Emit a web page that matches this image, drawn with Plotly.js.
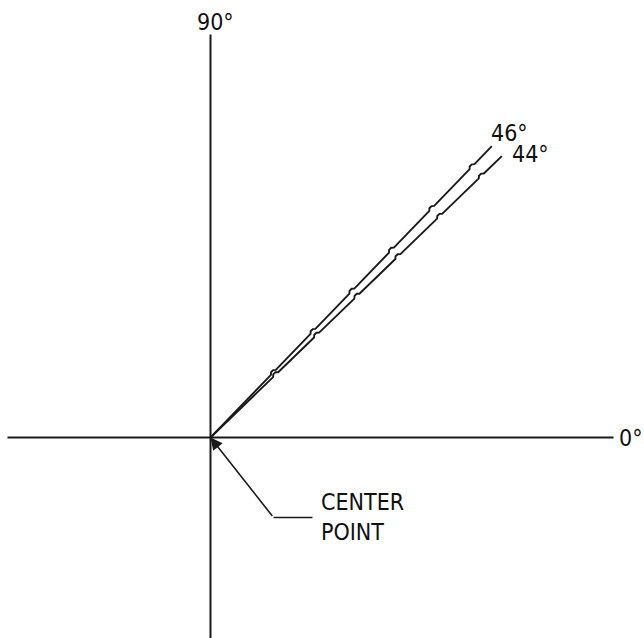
<!DOCTYPE html>
<html>
<head>
<meta charset="utf-8">
<script src="https://cdn.plot.ly/plotly-3.0.1.min.js"></script>
<style>html,body{margin:0;padding:0;background:#fff;}#chart{width:644px;height:638px;}</style>
</head>
<body>
<div id="chart"></div>
<script>
// Data
const rayAngles = [46, 44];            // degrees
const rayLabels = ["46°", "44°"];
const rayLength = 405;                 // drawing units
const kinkDistances = [90, 147, 203, 260, 318, 376];
const axisLabels = ["0°", "90°"];
const calloutLabel = ["CENTER", "POINT"];

const FONT = '"DejaVu Sans Condensed", "DejaVu Sans", sans-serif';
const ink = '#1a1a1a';

function rayPath(angle) {
  const a = angle * Math.PI / 180;
  const ux = Math.cos(a), uy = Math.sin(a);
  const nx = -uy, ny = ux; // perpendicular (upper-left)
  const xs = [0], ys = [0];
  kinkDistances.forEach(d => {
    [[d - 3, 0], [d - 1, 1.8], [d + 2, 1.8], [d + 4, 0]].forEach(([s, o]) => {
      xs.push(s * ux + o * nx); ys.push(s * uy + o * ny);
    });
  });
  xs.push(rayLength * ux); ys.push(rayLength * uy);
  return {xs, ys};
}

const traces = [];
// axes lines
traces.push({x: [-203, 403], y: [0, 0], mode: 'lines', line: {color: ink, width: 2}, hoverinfo: 'skip'});
traces.push({x: [0, 0], y: [-205, 403], mode: 'lines', line: {color: ink, width: 2}, hoverinfo: 'skip'});
// rays
rayAngles.forEach(ang => {
  const p = rayPath(ang);
  traces.push({x: p.xs, y: p.ys, mode: 'lines', line: {color: ink, width: 1.9}, hoverinfo: 'skip'});
});
// leader line
traces.push({x: [63, 102], y: [-80, -80], mode: 'lines', line: {color: ink, width: 1.6}, hoverinfo: 'skip'});

const annFont = {family: FONT, size: 23, color: '#111111'};
const annotations = [
  {x: 406, y: 0, xref: 'x', yref: 'y', text: axisLabels[0], showarrow: false, xanchor: 'left', yanchor: 'middle', font: annFont},
  {x: 5, y: 416, xref: 'x', yref: 'y', text: axisLabels[1], showarrow: false, xanchor: 'center', yanchor: 'middle', font: annFont},
  {x: 299, y: 305, xref: 'x', yref: 'y', text: rayLabels[0], showarrow: false, xanchor: 'center', yanchor: 'middle', font: annFont},
  {x: 320, y: 284, xref: 'x', yref: 'y', text: rayLabels[1], showarrow: false, xanchor: 'center', yanchor: 'middle', font: annFont},
  {x: 108, y: -64, xref: 'x', yref: 'y', text: calloutLabel[0], showarrow: false, xanchor: 'left', yanchor: 'middle', font: annFont},
  {x: 108, y: -94, xref: 'x', yref: 'y', text: calloutLabel[1], showarrow: false, xanchor: 'left', yanchor: 'middle', font: annFont},
  {x: 0, y: 0, xref: 'x', yref: 'y', ax: 63, ay: -80, axref: 'x', ayref: 'y', text: '', showarrow: true,
   arrowhead: 2, arrowsize: 1.5, arrowwidth: 1.6, arrowcolor: ink, standoff: 0}
];

const layout = {
  width: 644, height: 638,
  margin: {l: 0, r: 0, t: 0, b: 0},
  paper_bgcolor: '#ffffff', plot_bgcolor: '#ffffff',
  showlegend: false,
  xaxis: {range: [-210.5, 433.5], visible: false, fixedrange: true},
  yaxis: {range: [-200.5, 437.5], visible: false, fixedrange: true},
  annotations: annotations
};

Plotly.newPlot('chart', traces, layout, {staticPlot: true, displayModeBar: false});
</script>
</body>
</html>
